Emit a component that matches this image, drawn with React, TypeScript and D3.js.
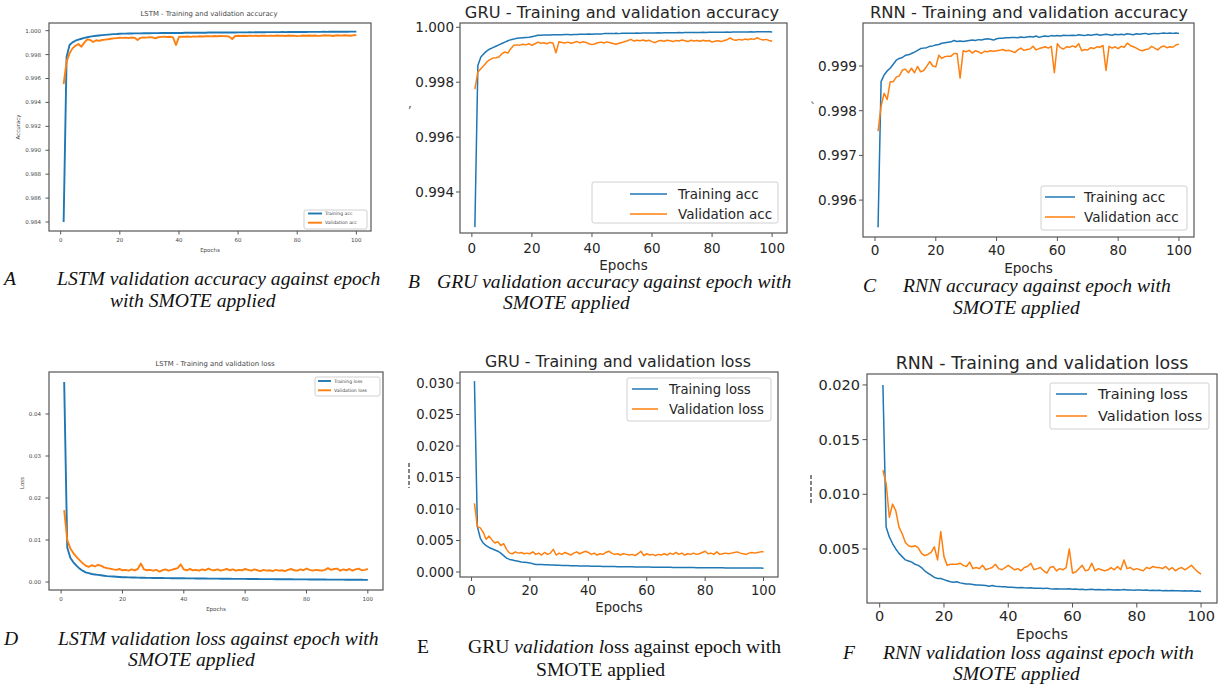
import React from "react";
import * as d3 from "d3";

// ---------------- DATA ----------------
const epochs = d3.range(1, 101);

const lstmTrainAcc = [
  0.9840, 0.9978, 0.99880, 0.99902, 0.99916, 0.99925, 0.99932, 0.99939, 0.99945, 0.99950,
  0.99954, 0.99957, 0.99960, 0.99963, 0.99965, 0.99967, 0.99969, 0.99971, 0.99972, 0.99974,
  0.99975, 0.99975, 0.99976, 0.99976, 0.99977, 0.99977, 0.99977, 0.99978, 0.99978, 0.99978,
  0.99979, 0.99979, 0.99979, 0.99980, 0.99980, 0.99980, 0.99980, 0.99981, 0.99980, 0.99981,
  0.99981, 0.99982, 0.99982, 0.99982, 0.99982, 0.99983, 0.99983, 0.99983, 0.99983, 0.99984,
  0.99984, 0.99984, 0.99984, 0.99985, 0.99984, 0.99985, 0.99985, 0.99985, 0.99985, 0.99986,
  0.99986, 0.99986, 0.99986, 0.99987, 0.99986, 0.99987, 0.99987, 0.99987, 0.99987, 0.99988,
  0.99988, 0.99988, 0.99988, 0.99988, 0.99989, 0.99988, 0.99989, 0.99989, 0.99989, 0.99989,
  0.99989, 0.99990, 0.99989, 0.99990, 0.99990, 0.99990, 0.99990, 0.99990, 0.99991, 0.99990,
  0.99991, 0.99991, 0.99991, 0.99991, 0.99991, 0.99992, 0.99991, 0.99992, 0.99992, 0.99992,
];
const lstmValAcc = [
  0.99554, 0.99741, 0.99810, 0.99852, 0.99874, 0.99888, 0.99866, 0.99900, 0.99927, 0.99922,
  0.99905, 0.99920, 0.99914, 0.99922, 0.99925, 0.99928, 0.99932, 0.99935, 0.99938, 0.99941,
  0.99940, 0.99942, 0.99938, 0.99943, 0.99940, 0.99921, 0.99940, 0.99944, 0.99942, 0.99946,
  0.99944, 0.99936, 0.99945, 0.99948, 0.99950, 0.99947, 0.99949, 0.99944, 0.99880, 0.99948,
  0.99950, 0.99949, 0.99951, 0.99948, 0.99952, 0.99950, 0.99953, 0.99951, 0.99953, 0.99954,
  0.99952, 0.99955, 0.99953, 0.99955, 0.99954, 0.99953, 0.99950, 0.99930, 0.99955, 0.99957,
  0.99955, 0.99957, 0.99955, 0.99958, 0.99956, 0.99957, 0.99955, 0.99958, 0.99957, 0.99956,
  0.99958, 0.99956, 0.99959, 0.99957, 0.99958, 0.99955, 0.99959, 0.99957, 0.99958, 0.99954,
  0.99956, 0.99959, 0.99957, 0.99960, 0.99958, 0.99959, 0.99956, 0.99958, 0.99961, 0.99959,
  0.99960, 0.99955, 0.99959, 0.99961, 0.99958, 0.99962, 0.99960, 0.99957, 0.99961, 0.99963,
];
const lstmTrainLoss = [
  0.0476, 0.0082, 0.0058, 0.0047, 0.0039, 0.0032, 0.0027, 0.0023, 0.0021, 0.0019,
  0.0018, 0.0017, 0.0016, 0.0015, 0.0014, 0.00135, 0.0013, 0.00125, 0.0012, 0.00115,
  0.00112, 0.0011, 0.00108, 0.00106, 0.00104, 0.00102, 0.001, 0.00099, 0.00098, 0.00097,
  0.00096, 0.00095, 0.00094, 0.00093, 0.00092, 0.00091, 0.0009, 0.00089, 0.00089, 0.00088,
  0.00087, 0.00086, 0.00086, 0.00085, 0.00084, 0.00083, 0.00083, 0.00082, 0.00081, 0.0008,
  0.0008, 0.00079, 0.00078, 0.00078, 0.00077, 0.00076, 0.00076, 0.00075, 0.00074, 0.00074,
  0.00073, 0.00072, 0.00072, 0.00071, 0.0007, 0.0007, 0.00069, 0.00069, 0.00068, 0.00067,
  0.00067, 0.00066, 0.00066, 0.00065, 0.00065, 0.00064, 0.00063, 0.00063, 0.00062, 0.00062,
  0.00061, 0.00061, 0.0006, 0.0006, 0.00059, 0.00059, 0.00058, 0.00058, 0.00057, 0.00057,
  0.00056, 0.00056, 0.00055, 0.00055, 0.00054, 0.00054, 0.00053, 0.00053, 0.00052, 0.00052,
];
const lstmValLoss = [
  0.0171, 0.0100, 0.0080, 0.0069, 0.0060, 0.0052, 0.0045, 0.0039, 0.0036, 0.0040,
  0.0037, 0.0041, 0.0039, 0.0035, 0.0033, 0.0032, 0.0030, 0.0029, 0.0031, 0.0028,
  0.0029, 0.0027, 0.0030, 0.0028, 0.0031, 0.0044, 0.0030, 0.0028, 0.0029, 0.0027,
  0.0029, 0.0025, 0.0028, 0.0030, 0.0027, 0.0029, 0.0031, 0.0033, 0.0042, 0.0030,
  0.0028, 0.0031, 0.0028, 0.0029, 0.0027, 0.0030, 0.0028, 0.0032, 0.0029, 0.0028,
  0.0030, 0.0027, 0.0029, 0.0031, 0.0028, 0.0030, 0.0027, 0.0029, 0.0028, 0.0031,
  0.0029, 0.0027, 0.0030, 0.0028, 0.0026, 0.0029, 0.0027, 0.0028, 0.0026, 0.0029,
  0.0027, 0.0028, 0.0026, 0.0029, 0.0031, 0.0028, 0.0027, 0.0030, 0.0028, 0.0032,
  0.0029, 0.0027, 0.0029, 0.0028, 0.0027, 0.0029, 0.0033, 0.0029, 0.0031, 0.0032,
  0.0027, 0.0030, 0.0028, 0.0031, 0.0027, 0.0030, 0.0032, 0.0028, 0.0029, 0.0031,
];
const gruTrainAcc = [
  0.99272, 0.99861, 0.99892, 0.99904, 0.99914, 0.99921, 0.99926, 0.99931, 0.99936, 0.99941,
  0.99946, 0.99951, 0.99955, 0.99957, 0.99960, 0.99961, 0.99962, 0.99963, 0.99964, 0.99966,
  0.99968, 0.99971, 0.99971, 0.99972, 0.99972, 0.99972, 0.99973, 0.99973, 0.99973, 0.99973,
  0.99974, 0.99974, 0.99973, 0.99974, 0.99974, 0.99975, 0.99975, 0.99975, 0.99976, 0.99975,
  0.99976, 0.99976, 0.99976, 0.99977, 0.99977, 0.99977, 0.99977, 0.99978, 0.99977, 0.99978,
  0.99978, 0.99978, 0.99978, 0.99978, 0.99979, 0.99978, 0.99979, 0.99979, 0.99979, 0.99979,
  0.99979, 0.99980, 0.99979, 0.99980, 0.99980, 0.99980, 0.99980, 0.99980, 0.99981, 0.99980,
  0.99981, 0.99981, 0.99981, 0.99981, 0.99981, 0.99981, 0.99982, 0.99981, 0.99982, 0.99982,
  0.99982, 0.99982, 0.99982, 0.99982, 0.99983, 0.99982, 0.99983, 0.99983, 0.99983, 0.99983,
  0.99983, 0.99983, 0.99984, 0.99983, 0.99984, 0.99984, 0.99984, 0.99984, 0.99984, 0.99983,
];
const gruValAcc = [
  0.99775, 0.99837, 0.99849, 0.99861, 0.99874, 0.99882, 0.99888, 0.99889, 0.99892, 0.99904,
  0.99910, 0.99906, 0.99923, 0.99935, 0.99936, 0.99935, 0.99938, 0.99936, 0.99940, 0.99934,
  0.99940, 0.99946, 0.99942, 0.99944, 0.99940, 0.99945, 0.99943, 0.99907, 0.99947, 0.99945,
  0.99943, 0.99946, 0.99942, 0.99945, 0.99948, 0.99944, 0.99947, 0.99945, 0.99940, 0.99937,
  0.99940, 0.99944, 0.99946, 0.99943, 0.99947, 0.99944, 0.99941, 0.99938, 0.99942, 0.99945,
  0.99948, 0.99952, 0.99956, 0.99950, 0.99953, 0.99951, 0.99954, 0.99950, 0.99953, 0.99948,
  0.99944, 0.99950, 0.99952, 0.99949, 0.99953, 0.99951, 0.99948, 0.99952, 0.99950, 0.99954,
  0.99951, 0.99948, 0.99953, 0.99950, 0.99952, 0.99949, 0.99953, 0.99950, 0.99952, 0.99946,
  0.99949, 0.99951, 0.99948, 0.99952, 0.99955, 0.99961, 0.99955, 0.99953, 0.99956, 0.99954,
  0.99957, 0.99955, 0.99958, 0.99956, 0.99962, 0.99957, 0.99954, 0.99956, 0.99952, 0.99949,
];
const rnnTrainAcc = [
  0.99539, 0.99865, 0.99880, 0.99889, 0.99895, 0.99904, 0.99913, 0.99917, 0.99919, 0.99924,
  0.99925, 0.99928, 0.99931, 0.99935, 0.99939, 0.99940, 0.99941, 0.99944, 0.99945, 0.99947,
  0.99948, 0.99951, 0.99952, 0.99953, 0.99954, 0.99957, 0.99955, 0.99956, 0.99955, 0.99956,
  0.99957, 0.99958, 0.99957, 0.99959, 0.99958, 0.99960, 0.99961, 0.99960, 0.99958, 0.99961,
  0.99962, 0.99962, 0.99963, 0.99963, 0.99964, 0.99964, 0.99963, 0.99965, 0.99964, 0.99965,
  0.99966, 0.99965, 0.99967, 0.99964, 0.99966, 0.99967, 0.99966, 0.99968, 0.99967, 0.99968,
  0.99967, 0.99969, 0.99968, 0.99968, 0.99969, 0.99968, 0.99970, 0.99969, 0.99968, 0.99970,
  0.99969, 0.99970, 0.99971, 0.99969, 0.99970, 0.99971, 0.99970, 0.99969, 0.99971, 0.99970,
  0.99971, 0.99970, 0.99972, 0.99971, 0.99970, 0.99972, 0.99971, 0.99972, 0.99973, 0.99971,
  0.99972, 0.99973, 0.99972, 0.99973, 0.99974, 0.99973, 0.99974, 0.99973, 0.99974, 0.99973,
];
const rnnValAcc = [
  0.99754, 0.99810, 0.99839, 0.99825, 0.99865, 0.99865, 0.99875, 0.99878, 0.99891, 0.99893,
  0.99885, 0.99895, 0.99885, 0.99899, 0.99887, 0.99890, 0.99899, 0.99910, 0.99900, 0.99898,
  0.99924, 0.99917, 0.99921, 0.99922, 0.99922, 0.99928, 0.99928, 0.99873, 0.99934, 0.99932,
  0.99935, 0.99929, 0.99934, 0.99932, 0.99928, 0.99933, 0.99932, 0.99934, 0.99933, 0.99934,
  0.99935, 0.99937, 0.99934, 0.99935, 0.99933, 0.99930, 0.99936, 0.99940, 0.99935, 0.99937,
  0.99938, 0.99944, 0.99936, 0.99939, 0.99941, 0.99943, 0.99940, 0.99944, 0.99885, 0.99950,
  0.99941, 0.99938, 0.99943, 0.99942, 0.99945, 0.99942, 0.99950, 0.99934, 0.99937, 0.99936,
  0.99941, 0.99939, 0.99943, 0.99942, 0.99946, 0.99890, 0.99944, 0.99940, 0.99943, 0.99939,
  0.99944, 0.99942, 0.99951, 0.99946, 0.99943, 0.99940, 0.99936, 0.99934, 0.99937, 0.99938,
  0.99944, 0.99940, 0.99936, 0.99942, 0.99945, 0.99941, 0.99943, 0.99942, 0.99947, 0.99949,
];
const gruTrainLoss = [
  0.0303, 0.0072, 0.0054, 0.0046, 0.0042, 0.0039, 0.0037, 0.0035, 0.0033, 0.0030,
  0.0026, 0.0022, 0.0020, 0.0019, 0.0018, 0.0017, 0.0016, 0.00155, 0.0015, 0.00145,
  0.0013, 0.0012, 0.0012, 0.00118, 0.00116, 0.00114, 0.00112, 0.0011, 0.00108, 0.00106,
  0.00104, 0.00103, 0.00102, 0.001, 0.00099, 0.00098, 0.00097, 0.00096, 0.00095, 0.00094,
  0.00093, 0.00092, 0.00091, 0.0009, 0.00089, 0.00088, 0.00088, 0.00087, 0.00086, 0.00085,
  0.00084, 0.00084, 0.00083, 0.00082, 0.00082, 0.00081, 0.0008, 0.0008, 0.00079, 0.00078,
  0.00078, 0.00077, 0.00077, 0.00076, 0.00075, 0.00075, 0.00074, 0.00074, 0.00073, 0.00073,
  0.00072, 0.00072, 0.00071, 0.00071, 0.0007, 0.0007, 0.00069, 0.00069, 0.00068, 0.00068,
  0.00068, 0.00067, 0.00067, 0.00066, 0.00066, 0.00066, 0.00065, 0.00065, 0.00065, 0.00064,
  0.00064, 0.00064, 0.00063, 0.00063, 0.00063, 0.00062, 0.00062, 0.00062, 0.00062, 0.00061,
];
const gruValLoss = [
  0.0109, 0.0072, 0.0070, 0.0063, 0.0052, 0.0057, 0.0051, 0.0046, 0.0048, 0.0042,
  0.0045, 0.0036, 0.0030, 0.0029, 0.0032, 0.0030, 0.0031, 0.0029, 0.0030, 0.0029,
  0.0032, 0.0028, 0.0030, 0.0027, 0.0031, 0.0028, 0.0030, 0.0036, 0.0027, 0.0030,
  0.0028, 0.0031, 0.0029, 0.0027, 0.0030, 0.0032, 0.0029, 0.0031, 0.0033, 0.0031,
  0.0028, 0.0030, 0.0027, 0.0029, 0.0028, 0.0031, 0.0033, 0.0030, 0.0028, 0.0029,
  0.0027, 0.0029, 0.0028, 0.0027, 0.0028, 0.0026, 0.0029, 0.0033, 0.0026, 0.0029,
  0.0027, 0.0028, 0.0026, 0.0028, 0.0027, 0.0029, 0.0027, 0.0030, 0.0028, 0.0031,
  0.0028, 0.0030, 0.0027, 0.0029, 0.0028, 0.0030, 0.0028, 0.0029, 0.0031, 0.0033,
  0.0029, 0.0030, 0.0028, 0.0032, 0.0028, 0.0029, 0.0030, 0.0029, 0.0030, 0.0031,
  0.0032, 0.0030, 0.0029, 0.0028, 0.0030, 0.0031, 0.0030, 0.0031, 0.0032, 0.0032,
];
const rnnTrainLoss = [
  0.0200, 0.0070, 0.0061, 0.0055, 0.0050, 0.0046, 0.0043, 0.0040, 0.0039, 0.0038,
  0.0036, 0.0035, 0.0033, 0.0030, 0.0028, 0.0026, 0.0024, 0.0023, 0.0023, 0.0022,
  0.0021, 0.0020, 0.00195, 0.0020, 0.0019, 0.00185, 0.0018, 0.0018, 0.00175, 0.0017,
  0.0017, 0.00168, 0.00165, 0.0016, 0.00165, 0.0016, 0.00158, 0.00155, 0.00155, 0.0015,
  0.0015, 0.00148, 0.00145, 0.00148, 0.00145, 0.00143, 0.00145, 0.0014, 0.00142, 0.0014,
  0.00138, 0.00142, 0.00136, 0.00135, 0.00137, 0.00134, 0.00135, 0.00133, 0.00136, 0.00132,
  0.00134, 0.0013, 0.00132, 0.00128, 0.0013, 0.00131, 0.00127, 0.0013, 0.00128, 0.00126,
  0.00129, 0.00127, 0.00125, 0.00128, 0.00126, 0.00129, 0.00124, 0.00126, 0.00123, 0.00125,
  0.00124, 0.00122, 0.00125, 0.00121, 0.00123, 0.0012, 0.00122, 0.00119, 0.00121, 0.00118,
  0.0012, 0.00117, 0.00119, 0.00116, 0.00118, 0.00115, 0.00117, 0.00114, 0.00116, 0.00112,
];
const rnnValLoss = [
  0.0122, 0.0110, 0.0079, 0.0091, 0.0085, 0.0070, 0.0064, 0.0056, 0.0053, 0.0052,
  0.0053, 0.0051, 0.0046, 0.0044, 0.0045, 0.0047, 0.0052, 0.0040, 0.0066, 0.0043,
  0.0035, 0.0036, 0.0036, 0.0036, 0.0037, 0.0035, 0.0034, 0.0038, 0.0032, 0.0033,
  0.0032, 0.0035, 0.0031, 0.0032, 0.0033, 0.0036, 0.0032, 0.0031, 0.0033, 0.0035,
  0.0033, 0.0031, 0.0032, 0.0030, 0.0033, 0.0034, 0.0037, 0.0031, 0.0032, 0.0033,
  0.0030, 0.0028, 0.0033, 0.0034, 0.0030, 0.0032, 0.0031, 0.0033, 0.0050, 0.0028,
  0.0029, 0.0032, 0.0035, 0.0030, 0.0031, 0.0037, 0.0030, 0.0032, 0.0031, 0.0030,
  0.0031, 0.0033, 0.0031, 0.0034, 0.0031, 0.0040, 0.0032, 0.0033, 0.0031, 0.0032,
  0.0031, 0.0030, 0.0033, 0.0032, 0.0034, 0.0033, 0.0033, 0.0032, 0.0034, 0.0031,
  0.0033, 0.0030, 0.0032, 0.0033, 0.0031, 0.0033, 0.0035, 0.0032, 0.0029, 0.0027,
];

const xTicks = [0, 20, 40, 60, 80, 100];
const accTicksLSTM = [0.984, 0.986, 0.988, 0.99, 0.992, 0.994, 0.996, 0.998, 1.0];
const accTicksGRU = [0.994, 0.996, 0.998, 1.0];
const accTicksRNN = [0.996, 0.997, 0.998, 0.999];
const lossTicksLSTM = [0, 0.01, 0.02, 0.03, 0.04];
const lossTicksGRU = [0, 0.005, 0.01, 0.015, 0.02, 0.025, 0.03];
const lossTicksRNN = [0.005, 0.01, 0.015, 0.02];

const BLUE = "#1f77b4";
const ORANGE = "#ff7f0e";
const SANS = "DejaVu Sans, sans-serif";
const SERIF = "Liberation Serif, Times New Roman, serif";

type Cfg = {
  title: string;
  titleX: number;
  titleY: number;
  titleSize: number;
  x0: number; x1: number; y0: number; y1: number;
  yDomain: [number, number];
  yTicks: number[];
  yFmt: string;
  tickSize: number;
  tickLen: number;
  labelGap: number;
  xLabelY: number;
  epochsY: number;
  epochsSize: number;
  ylabel?: string; ylabelX?: number; ylabelY?: number;
  train: number[]; val: number[];
  names: [string, string];
  lw: number;
  leg: { bx0: number; by0: number; bx1: number; by1: number; sx0: number; sx1: number; tx: number; ys: [number, number]; fs: number };
  ink: string;
};

function Panel({ c }: { c: Cfg }) {
  const x = d3.scaleLinear().domain([-3.95, 104.95]).range([c.x0, c.x1]);
  const y = d3.scaleLinear().domain(c.yDomain).range([c.y1, c.y0]);
  const gen = d3.line<number>().x((_, i) => x(epochs[i])).y((d) => y(d));
  const fmt = d3.format(c.yFmt);
  const clipId = `clip-${c.x0}-${c.y0}`;
  return (
    <g>
      <defs>
        <clipPath id={clipId}>
          <rect x={c.x0} y={c.y0} width={c.x1 - c.x0} height={c.y1 - c.y0} />
        </clipPath>
      </defs>
      <text x={c.titleX} y={c.titleY} textAnchor="middle" dominantBaseline="central" fontFamily={SANS} fontSize={c.titleSize} fill={c.ink}>{c.title}</text>
      <g clipPath={`url(#${clipId})`}>
        <path d={gen(c.train) || ""} fill="none" stroke={BLUE} strokeWidth={c.lw} strokeLinejoin="round" />
        <path d={gen(c.val) || ""} fill="none" stroke={ORANGE} strokeWidth={c.lw} strokeLinejoin="round" />
      </g>
      <rect x={c.x0} y={c.y0} width={c.x1 - c.x0} height={c.y1 - c.y0} fill="none" stroke="#555" strokeWidth={1.2} />
      {c.yTicks.map((t) => (
        <g key={"y" + t}>
          <line x1={c.x0 - c.tickLen} x2={c.x0} y1={y(t)} y2={y(t)} stroke="#555" strokeWidth={1} />
          <text x={c.x0 - c.labelGap} y={y(t)} textAnchor="end" dominantBaseline="central" fontFamily={SANS} fontSize={c.tickSize} fill={c.ink}>{fmt(t)}</text>
        </g>
      ))}
      {xTicks.map((t) => (
        <g key={"x" + t}>
          <line x1={x(t)} x2={x(t)} y1={c.y1} y2={c.y1 + c.tickLen} stroke="#555" strokeWidth={1} />
          <text x={x(t)} y={c.xLabelY} textAnchor="middle" dominantBaseline="central" fontFamily={SANS} fontSize={c.tickSize} fill={c.ink}>{t}</text>
        </g>
      ))}
      <text x={(c.x0 + c.x1) / 2} y={c.epochsY} textAnchor="middle" dominantBaseline="central" fontFamily={SANS} fontSize={c.epochsSize} fill={c.ink}>Epochs</text>
      {c.ylabel && (
        <text transform={`translate(${c.ylabelX},${c.ylabelY}) rotate(-90)`} textAnchor="middle" dominantBaseline="central" fontFamily={SANS} fontSize={c.tickSize} fill={c.ink}>{c.ylabel}</text>
      )}
      <rect x={c.leg.bx0} y={c.leg.by0} width={c.leg.bx1 - c.leg.bx0} height={c.leg.by1 - c.leg.by0} rx={2} fill="white" fillOpacity={0.85} stroke="#d0d0d0" strokeWidth={1} />
      {[BLUE, ORANGE].map((col, i) => (
        <g key={col}>
          <line x1={c.leg.sx0} x2={c.leg.sx1} y1={c.leg.ys[i]} y2={c.leg.ys[i]} stroke={col} strokeWidth={c.lw} />
          <text x={c.leg.tx} y={c.leg.ys[i]} dominantBaseline="central" fontFamily={SANS} fontSize={c.leg.fs} fill={c.ink}>{c.names[i]}</text>
        </g>
      ))}
    </g>
  );
}

const panels: Cfg[] = [
  {
    title: "LSTM - Training and validation accuracy", titleX: 209, titleY: 14, titleSize: 6.9,
    x0: 49, x1: 371, y0: 23, y1: 231, yDomain: [0.98325, 1.00064], yTicks: accTicksLSTM, yFmt: ".3f",
    tickSize: 5.5, tickLen: 3.5, labelGap: 8, xLabelY: 240, epochsY: 250, epochsSize: 5.5,
    ylabel: "Accuracy", ylabelX: 18, ylabelY: 127,
    train: lstmTrainAcc, val: lstmValAcc, names: ["Training acc", "Validation acc"], lw: 1.9,
    leg: { bx0: 304, by0: 210, bx1: 367, by1: 229, sx0: 308, sx1: 322, tx: 325, ys: [213.5, 222.7], fs: 4.6 },
    ink: "#444",
  },
  {
    title: "GRU - Training and validation accuracy", titleX: 622, titleY: 12.5, titleSize: 16.2,
    x0: 460, x1: 787, y0: 23, y1: 233, yDomain: [0.992506, 1.000157], yTicks: accTicksGRU, yFmt: ".3f",
    tickSize: 13.5, tickLen: 4, labelGap: 6, xLabelY: 248, epochsY: 265, epochsSize: 13.5,
    train: gruTrainAcc, val: gruValAcc, names: ["Training acc", "Validation acc"], lw: 1.5,
    leg: { bx0: 592, by0: 182, bx1: 778, by1: 223, sx0: 630, sx1: 667, tx: 678, ys: [194, 214], fs: 13.5 },
    ink: "#262626",
  },
  {
    title: "RNN - Training and validation accuracy", titleX: 1029, titleY: 12.5, titleSize: 16.4,
    x0: 863, x1: 1194, y0: 23, y1: 237, yDomain: [0.995175, 0.999962], yTicks: accTicksRNN, yFmt: ".3f",
    tickSize: 13.6, tickLen: 4, labelGap: 6, xLabelY: 250, epochsY: 268, epochsSize: 13.6,
    train: rnnTrainAcc, val: rnnValAcc, names: ["Training acc", "Validation acc"], lw: 1.5,
    leg: { bx0: 1041, by0: 186, bx1: 1187, by1: 230, sx0: 1045, sx1: 1075, tx: 1084, ys: [197, 217], fs: 13.6 },
    ink: "#262626",
  },
  {
    title: "LSTM - Training and validation loss", titleX: 215, titleY: 364, titleSize: 6.9,
    x0: 49, x1: 383, y0: 372, y1: 590, yDomain: [-0.0019, 0.05], yTicks: lossTicksLSTM, yFmt: ".2f",
    tickSize: 5.5, tickLen: 3.5, labelGap: 8, xLabelY: 599, epochsY: 609, epochsSize: 5.5,
    ylabel: "Loss", ylabelX: 22, ylabelY: 483,
    train: lstmTrainLoss, val: lstmValLoss, names: ["Training loss", "Validation loss"], lw: 1.9,
    leg: { bx0: 315, by0: 377, bx1: 380, by1: 396, sx0: 318, sx1: 331, tx: 334, ys: [381, 390.3], fs: 4.6 },
    ink: "#444",
  },
  {
    title: "GRU - Training and validation loss", titleX: 618, titleY: 361, titleSize: 15.8,
    x0: 460, x1: 778, y0: 372, y1: 577, yDomain: [-0.00079, 0.03175], yTicks: lossTicksGRU, yFmt: ".3f",
    tickSize: 13.2, tickLen: 4, labelGap: 6, xLabelY: 590, epochsY: 607, epochsSize: 13.2,
    train: gruTrainLoss, val: gruValLoss, names: ["Training loss", "Validation loss"], lw: 1.5,
    leg: { bx0: 627, by0: 378, bx1: 771, by1: 421, sx0: 632, sx1: 658, tx: 669, ys: [389, 409], fs: 13.2 },
    ink: "#262626",
  },
  {
    title: "RNN - Training and validation loss", titleX: 1042, titleY: 363, titleSize: 17.4,
    x0: 867, x1: 1217, y0: 374, y1: 603, yDomain: [0.00006, 0.021], yTicks: lossTicksRNN, yFmt: ".3f",
    tickSize: 14.5, tickLen: 4.5, labelGap: 7, xLabelY: 616, epochsY: 634, epochsSize: 14.5,
    train: rnnTrainLoss, val: rnnValLoss, names: ["Training loss", "Validation loss"], lw: 1.5,
    leg: { bx0: 1050, by0: 383, bx1: 1209, by1: 429, sx0: 1056, sx1: 1087, tx: 1098, ys: [394, 416], fs: 14.5 },
    ink: "#262626",
  },
];

const CAP = 19.6;

export default function App() {
  return (
    <svg width={1225} height={688} viewBox="0 0 1225 688" style={{ position: "absolute", left: 0, top: 0, background: "white" }}>
      <rect x={0} y={0} width={1225} height={688} fill="white" />
      {panels.map((c, i) => <Panel key={i} c={c} />)}

      {/* stray y-label residue marks */}
      <text x={408} y={108} fontFamily={SANS} fontSize={12} fill="#555">,</text>
      <text x={810} y={112} fontFamily={SANS} fontSize={12} fill="#555">`</text>
      <line x1={409} x2={409} y1={463} y2={488} stroke="#333" strokeWidth={1.2} strokeDasharray="4,2" />
      <line x1={811} x2={811} y1={475} y2={505} stroke="#333" strokeWidth={1.2} strokeDasharray="4,2" />

      {/* captions */}
      <g fontFamily={SERIF} fontSize={CAP} fill="#111" fontStyle="italic">
        <text x={4} y={285}>A</text>
        <text x={57} y={285}>LSTM validation accuracy against epoch</text>
        <text x={110} y={307}>with SMOTE applied</text>

        <text x={408} y={288}>B</text>
        <text x={437} y={288}>GRU validation accuracy against epoch with</text>
        <text x={503} y={309}>SMOTE applied</text>

        <text x={863} y={292}>C</text>
        <text x={903} y={292}>RNN accuracy against epoch with</text>
        <text x={953} y={314}>SMOTE applied</text>

        <text x={4} y={645}>D</text>
        <text x={58} y={645}>LSTM validation loss against epoch with</text>
        <text x={128} y={666}>SMOTE applied</text>

        <text x={843} y={659}>F</text>
        <text x={883} y={659}>RNN validation loss against epoch with</text>
        <text x={953} y={680}>SMOTE applied</text>
      </g>
      <g fontFamily={SERIF} fontSize={CAP} fill="#111">
        <text x={417} y={653}>E</text>
        <text x={468} y={653}>
          GRU <tspan fontStyle="italic">validation l</tspan>oss against epoch with
        </text>
        <text x={536} y={676}>SMOTE applied</text>
      </g>
    </svg>
  );
}
